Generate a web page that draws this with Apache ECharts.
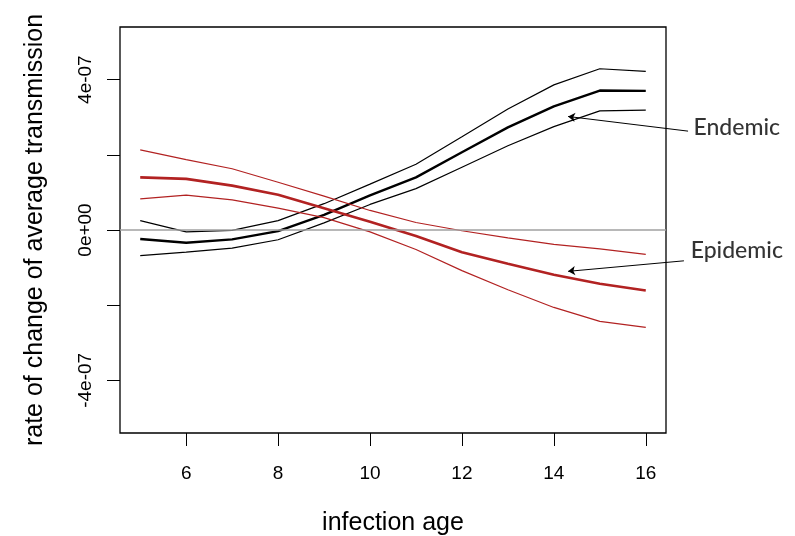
<!DOCTYPE html>
<html>
<head>
<meta charset="utf-8">
<script src="https://cdn.jsdelivr.net/npm/echarts@6/dist/echarts.min.js"></script>
<style>
	html, body { margin: 0; padding: 0; background: #fff; }
	#chart { width: 795px; height: 536px; }
</style>
</head>
<body>
<div id="chart"></div>
<script type="text/javascript">
	// infection age
	var ages = [5, 6, 7, 8, 9, 10, 11, 12, 13, 14, 15, 16];

	// endemic: mean and band
	var endemicMean  = [-0.24e-7, -0.34e-7, -0.25e-7, -0.03e-7, 0.40e-7, 0.92e-7, 1.40e-7, 2.07e-7, 2.73e-7, 3.29e-7, 3.71e-7, 3.70e-7];
	var endemicUpper = [0.25e-7, -0.05e-7, -0.01e-7, 0.25e-7, 0.70e-7, 1.22e-7, 1.75e-7, 2.48e-7, 3.22e-7, 3.86e-7, 4.29e-7, 4.22e-7];
	var endemicLower = [-0.68e-7, -0.59e-7, -0.48e-7, -0.26e-7, 0.19e-7, 0.68e-7, 1.10e-7, 1.67e-7, 2.24e-7, 2.75e-7, 3.17e-7, 3.19e-7];

	// epidemic: mean and band
	var epidemicMean  = [1.40e-7, 1.36e-7, 1.18e-7, 0.94e-7, 0.58e-7, 0.22e-7, -0.16e-7, -0.59e-7, -0.90e-7, -1.19e-7, -1.43e-7, -1.61e-7];
	var epidemicUpper = [2.13e-7, 1.87e-7, 1.63e-7, 1.27e-7, 0.90e-7, 0.52e-7, 0.20e-7, -0.02e-7, -0.21e-7, -0.38e-7, -0.50e-7, -0.65e-7];
	var epidemicLower = [0.83e-7, 0.93e-7, 0.80e-7, 0.58e-7, 0.33e-7, -0.05e-7, -0.52e-7, -1.08e-7, -1.59e-7, -2.06e-7, -2.43e-7, -2.59e-7];

	// axes
	var xTicks = [6, 8, 10, 12, 14, 16];
	var yTicks = [-4e-7, -2e-7, 0, 2e-7, 4e-7];
	var yLabelValues = [-4e-7, 0, 4e-7];
	var yTickLabels = ['-4e-07', '0e+00', '4e-07'];

	// annotations (data coordinates)
	var noteNames = ['Endemic', 'Epidemic'];
	var noteX = [17.98, 17.98];
	var noteY = [2.72e-7, -0.55e-7];
	var arrowFrom = [[16.92, 2.63e-7], [16.83, -0.82e-7]];
	var arrowTo = [[14.31, 3.02e-7], [14.31, -1.10e-7]];

	function pairs(xs, ys) {
		return xs.map(function (x, i) { return [x, ys[i]]; });
	}

	function lineSeries(name, ys, color, width) {
		return {
			name: name,
			type: 'line',
			data: pairs(ages, ys),
			symbol: 'none',
			smooth: false,
			lineStyle: { color: color, width: width },
			itemStyle: { color: color },
			z: 3
		};
	}

	var red = '#b22222';
	var font = 'Liberation Sans, Arial, sans-serif';

	var myChart = echarts.init(document.getElementById('chart'), null, { renderer: 'canvas' });

	var series = [
		{
			type: 'line',
			data: [],
			markLine: {
				silent: true,
				symbol: 'none',
				label: { show: false },
				lineStyle: { color: '#a0a0a0', width: 1.5, type: 'solid' },
				data: [{ yAxis: 0 }],
				animation: false
			},
			z: 1
		},
		lineSeries('endemicUpper', endemicUpper, '#000', 1.2),
		lineSeries('endemicLower', endemicLower, '#000', 1.2),
		lineSeries('endemicMean', endemicMean, '#000', 2.4),
		lineSeries('epidemicUpper', epidemicUpper, red, 1.2),
		lineSeries('epidemicLower', epidemicLower, red, 1.2),
		lineSeries('epidemicMean', epidemicMean, red, 2.6),
		{
			type: 'lines',
			coordinateSystem: 'cartesian2d',
			clip: false,
			symbol: ['none', 'arrow'],
			symbolSize: 7,
			lineStyle: { color: '#000', width: 1, opacity: 1 },
			data: arrowFrom.map(function (p, i) { return { coords: [p, arrowTo[i]] }; }),
			z: 4
		},
		{
			type: 'scatter',
			clip: false,
			symbolSize: 0.1,
			itemStyle: { color: 'rgba(0,0,0,0)' },
			data: noteNames.map(function (n, i) { return [noteX[i], noteY[i], n]; }),
			label: {
				show: true,
				position: 'inside',
				formatter: function (p) { return p.data[2]; },
				fontFamily: 'Lato, Open Sans, sans-serif',
				fontWeight: 500,
				fontSize: 23,
				color: '#000'
			},
			z: 5
		}
	];

	var option = {
		animation: false,
		backgroundColor: '#fff',
		grid: {
			left: 120,
			right: 129,
			top: 27,
			bottom: 103,
			outerBoundsMode: 'none',
			containLabel: false,
			show: true,
			borderColor: '#000',
			borderWidth: 1.3,
			backgroundColor: 'transparent'
		},
		xAxis: {
			type: 'value',
			min: 4.56,
			max: 16.44,
			name: 'infection age',
			nameLocation: 'middle',
			nameGap: 78,
			nameTextStyle: { fontSize: 25, color: '#000', fontFamily: font },
			axisLine: { show: false, onZero: false },
			splitLine: { show: false },
			axisTick: {
				show: true,
				customValues: xTicks,
				length: 13,
				lineStyle: { color: '#000', width: 1 }
			},
			axisLabel: {
				customValues: xTicks,
				margin: 31,
				fontSize: 19,
				color: '#000',
				fontFamily: font
			}
		},
		yAxis: {
			type: 'value',
			min: -5.4e-7,
			max: 5.4e-7,
			name: 'rate of change of average transmission',
			nameLocation: 'middle',
			nameGap: 72,
			nameTextStyle: { fontSize: 25, color: '#000', fontFamily: font },
			axisLine: { show: false, onZero: false },
			splitLine: { show: false },
			axisTick: {
				show: true,
				customValues: yTicks,
				length: 13,
				lineStyle: { color: '#000', width: 1 }
			},
			axisLabel: {
				customValues: yLabelValues,
				rotate: 90,
				margin: 25,
				fontSize: 19,
				color: '#000',
				fontFamily: font,
				formatter: function (v) {
					for (var i = 0; i < yLabelValues.length; i++) {
						if (Math.abs(v - yLabelValues[i]) < 1e-12) return yTickLabels[i];
					}
					return '';
				}
			}
		},
		series: series
	};

	myChart.setOption(option);
</script>
</body>
</html>
